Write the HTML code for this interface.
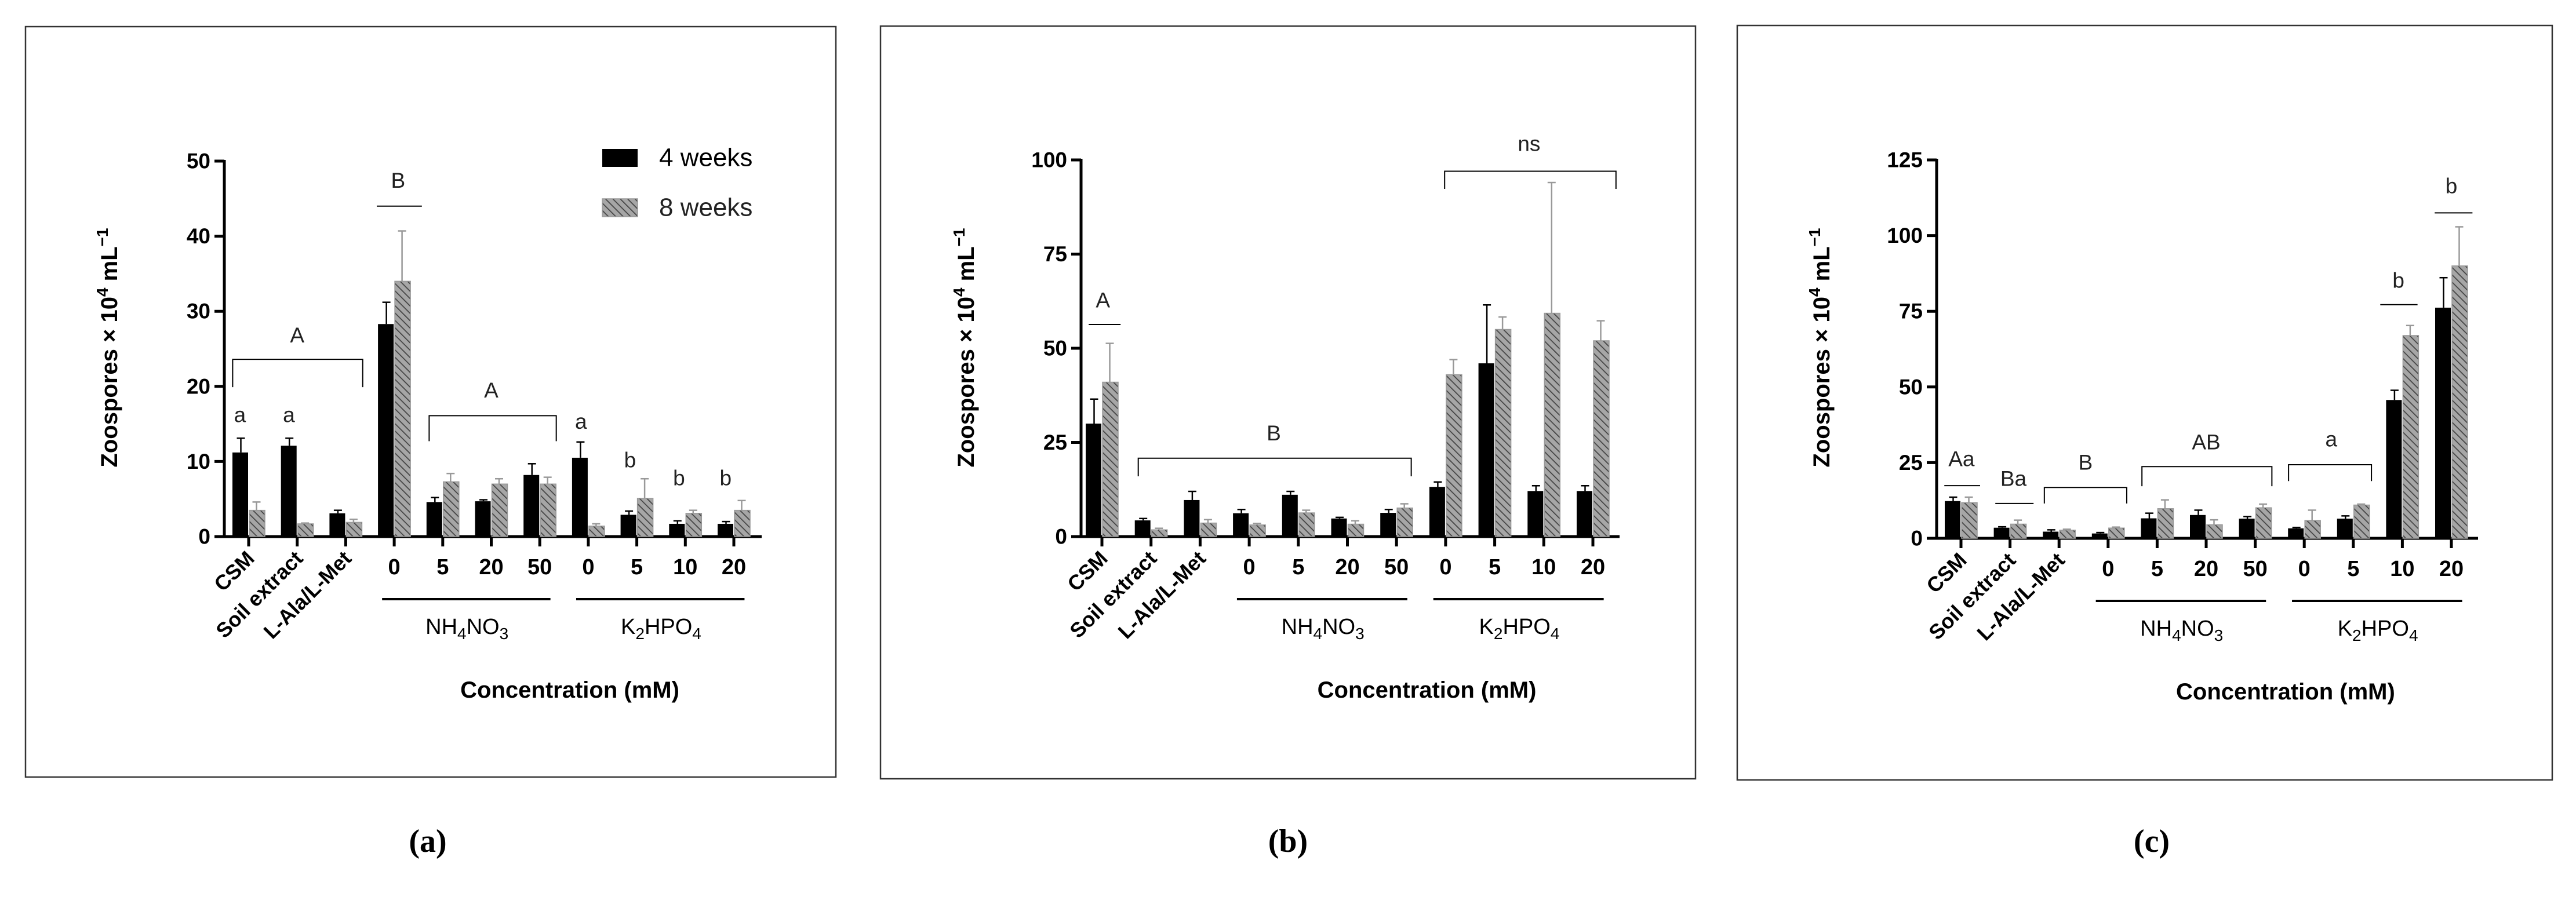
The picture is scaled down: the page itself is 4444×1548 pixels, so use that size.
<!DOCTYPE html>
<html><head><meta charset="utf-8"><style>
html,body{margin:0;padding:0;background:#fff}
svg{display:block}
text{font-family:"Liberation Sans",Arial,sans-serif}
</style></head><body>
<svg id="fig" width="4444" height="1548" viewBox="0 0 4444 1548" xmlns="http://www.w3.org/2000/svg">
<defs>
<pattern id="hatch" patternUnits="userSpaceOnUse" width="9" height="9" patternTransform="rotate(-45)">
<rect width="9" height="9" fill="#a6a6a6"/>
<line x1="0" y1="0" x2="0" y2="9" stroke="#444" stroke-width="3.5"/>
</pattern>
</defs>
</svg>
<script>
const categories = ["CSM","Soil extract","L-Ala/L-Met","0","5","20","50","0","5","10","20"];
const tickLabelsA = [0,10,20,30,40,50];
const tickLabelsB = [0,25,50,75,100];
const tickLabelsC = [0,25,50,75,100,125];
const a4 = [11.2,12.1,3.1,28.3,4.6,4.7,8.2,10.5,2.9,1.7,1.7];
const a4err = [13.1,13.1,3.5,31.2,5.2,4.9,9.7,12.6,3.4,2.1,2.0];
const a8 = [3.5,1.7,1.9,34,7.3,7.0,7.0,1.4,5.1,3.1,3.5];
const a8err = [4.6,1.8,2.3,40.7,8.4,7.7,7.9,1.7,7.7,3.5,4.8];
const b4 = [30,4.3,9.7,6.2,11.1,4.8,6.3,13.2,46,12.1,12.1];
const b4err = [36.5,4.8,12,7.2,12,5.1,7.2,14.5,61.5,13.5,13.5];
const b8 = [41,1.8,3.6,3.1,6.3,3.3,7.6,43,55,59.3,52];
const b8err = [51.3,2.2,4.5,3.5,7.0,4.2,8.7,47,58.3,94,57.3];
const c4 = [12.3,3.5,2.2,1.6,6.6,7.7,6.5,3.3,6.5,45.7,76.2];
const c4err = [13.6,3.8,2.8,1.9,8.3,9.3,7.2,3.6,7.4,48.9,86.1];
const c8 = [11.8,4.7,2.7,3.4,9.8,4.5,10.1,5.9,11.0,67,90];
const c8err = [13.6,6.0,3.0,3.7,12.7,6.1,11.3,9.3,11.3,70.3,102.9];
const annA = [["br",-0.33,2.35,23.6,19.9,1.0,26.8,"A"],["ln",2.64,3.57,44,0,3.08,47.4,"B"],["br",3.72,6.34,16.1,12.7,5.0,19.5,"A"],
  ["tx",0,0,0,0,-0.18,16.2,"a"],["tx",0,0,0,0,0.83,16.2,"a"],["tx",0,0,0,0,6.85,15.3,"a"],["tx",0,0,0,0,7.86,10.2,"b"],["tx",0,0,0,0,8.87,7.8,"b"],["tx",0,0,0,0,9.83,7.8,"b"]];
const annB = [["ln",-0.27,0.38,56.3,0,0.02,62.8,"A"],["br",0.74,6.3,20.8,16.0,3.5,27.5,"B"],["br",6.98,10.47,97,92.3,8.7,104.3,"ns"]];
const annC = [["ln",-0.34,0.39,17.4,0,0.01,26.2,"Aa"],["ln",0.70,1.48,11.5,0,1.07,19.7,"Ba"],["br",1.70,3.38,16.8,11.5,2.54,25.1,"B"],
  ["br",3.69,6.34,23.7,17.2,5.0,31.8,"AB"],["br",6.68,8.37,24.3,18.9,7.55,32.7,"a"],["ln",8.55,9.31,77.2,0,8.92,85.2,"b"],["ln",9.66,10.43,107.5,0,10.0,116.4,"b"]];

const svg = document.getElementById('fig');
const NS = "http://www.w3.org/2000/svg";
function mk(tag, attrs, parent, txt){const e=document.createElementNS(NS,tag);for(const k in attrs)e.setAttribute(k,attrs[k]);if(txt!==undefined)e.textContent=txt;(parent||svg).appendChild(e);return e;}

function panel(p){
  const g = mk('g',{});
  
  
  const fr = mk('rect',{x:p.box[0],y:p.box[1],width:p.box[2]-p.box[0],height:p.box[3]-p.box[1],fill:'none',stroke:'#333','stroke-width':2.5},g);
  
  
  const ys = v => p.y0 - v*(p.y0-p.ytop)/p.ymax;
  const xs = i => p.x0 + i*p.dx;
  const ya = mk('line',{x1:p.ax,y1:ys(p.ymax)-2,x2:p.ax,y2:p.y0+2,stroke:'#000','stroke-width':5},g);
  
  
  p.ticks.forEach(t=>{
    mk('line',{x1:p.ax-17,y1:ys(t),x2:p.ax,y2:ys(t),stroke:'#000','stroke-width':5},g);
    const tl = mk('text',{x:p.ax-24,y:ys(t),'text-anchor':'end','dominant-baseline':'central','font-size':37,'font-weight':'bold'},g,String(t));
    
    
  });
  const xa = mk('line',{x1:p.ax-2,y1:p.y0,x2:p.xend,y2:p.y0,stroke:'#000','stroke-width':5},g);
  
  
  const bw = 27;
  categories.forEach((c,i)=>{
    const x = xs(i);
    mk('line',{x1:x,y1:p.y0,x2:x,y2:p.y0+17,stroke:'#000','stroke-width':5},g);
    mk('line',{x1:x-bw/2,y1:ys(p.e4[i]),x2:x-bw/2,y2:ys(p.v4[i]),stroke:'#000','stroke-width':2.5},g);
    mk('line',{x1:x-bw/2-7,y1:ys(p.e4[i]),x2:x-bw/2+7,y2:ys(p.e4[i]),stroke:'#000','stroke-width':2.5},g);
    mk('line',{x1:x+bw/2,y1:ys(p.e8[i]),x2:x+bw/2,y2:ys(p.v8[i]),stroke:'#999','stroke-width':2.5},g);
    mk('line',{x1:x+bw/2-7,y1:ys(p.e8[i]),x2:x+bw/2+7,y2:ys(p.e8[i]),stroke:'#999','stroke-width':2.5},g);
    const b1 = mk('rect',{x:x-bw-1,y:ys(p.v4[i]),width:bw,height:p.y0-ys(p.v4[i]),fill:'#000'},g);
    
    
    const b2 = mk('rect',{x:x+1,y:ys(p.v8[i]),width:bw,height:p.y0-ys(p.v8[i]),fill:'url(#hatch)',stroke:'#999','stroke-width':1.5},g);
    
    
    if(i<3){
      const t = mk('text',{x:x+12,y:p.y0+40,'text-anchor':'end','font-size':36,'font-weight':'bold',transform:`rotate(-45 ${x+12} ${p.y0+40})`},g,c);
      
      
    } else {
      const t = mk('text',{x:x,y:p.y0+65,'text-anchor':'middle','font-size':38,'font-weight':'bold'},g,c);
      
      
    }
  });
  const gy = p.y0+108;
  [[3,6,'NH','4','NO','3'],[7,10,'K','2','HPO','4']].forEach(gr=>{
    const l = mk('line',{x1:xs(gr[0])-0.25*p.dx,y1:gy,x2:xs(gr[1])+0.22*p.dx,y2:gy,stroke:'#000','stroke-width':4},g);
    
    
    const t = mk('text',{x:(xs(gr[0])+xs(gr[1]))/2,y:gy+60,'text-anchor':'middle','font-size':38},g);
    
    
    mk('tspan',{},t,gr[2]); mk('tspan',{dy:9,'font-size':28},t,gr[3]); mk('tspan',{dy:-9},t,gr[4]); mk('tspan',{dy:9,'font-size':28},t,gr[5]);
  });
  const ct = mk('text',{x:(xs(3)+xs(10))/2+10,y:p.y0+278,'text-anchor':'middle','font-size':40,'font-weight':'bold'},g,'Concentration (mM)');
  
  
  const yt = mk('text',{x:p.ax-185,y:600,'text-anchor':'middle','font-size':40,'font-weight':'bold',transform:`rotate(-90 ${p.ax-185} 600)`},g);
  
  
  mk('tspan',{},yt,'Zoospores × 10'); mk('tspan',{dy:-16,'font-size':28},yt,'4'); mk('tspan',{dy:16},yt,' mL'); mk('tspan',{dy:-16,'font-size':28},yt,'−1');
  p.ann.forEach(a=>{
    const [type,f,t,lv,gv,li,lab,txt]=a;
    if(type==='br'){
      const pl = mk('polyline',{points:`${xs(f)},${ys(gv)} ${xs(f)},${ys(lv)} ${xs(t)},${ys(lv)} ${xs(t)},${ys(gv)}`,fill:'none',stroke:'#000','stroke-width':2},g);
      
      
    } else if(type==='ln'){
      const ln = mk('line',{x1:xs(f),y1:ys(lv),x2:xs(t),y2:ys(lv),stroke:'#000','stroke-width':2},g);
      
      
    }
    const tx = mk('text',{x:xs(li),y:ys(lab),'text-anchor':'middle','dominant-baseline':'central','font-size':37,fill:'#222'},g,txt);
    
    
  });
  const cap = mk('text',{x:p.cap,y:1452,'text-anchor':'middle','dominant-baseline':'central','font-size':56,'font-weight':'bold',style:'font-family:"Liberation Serif",serif'},g,'('+p.id+')');
  
  
}

panel({id:'a',box:[44,46,1442,1341],ax:387,y0:926,ytop:278,ymax:50,x0:429,dx:83.7,xend:1314,ticks:tickLabelsA,v4:a4,e4:a4err,v8:a8,e8:a8err,ann:annA,cap:738});
panel({id:'b',box:[1519,45,2925,1344],ax:1865,y0:926,ytop:276,ymax:100,x0:1901,dx:84.7,xend:2794,ticks:tickLabelsB,v4:b4,e4:b4err,v8:b8,e8:b8err,ann:annB,cap:2222});
panel({id:'c',box:[2997,44,4403,1346],ax:3341,y0:929,ytop:276,ymax:125,x0:3383,dx:84.6,xend:4275,ticks:tickLabelsC,v4:c4,e4:c4err,v8:c8,e8:c8err,ann:annC,cap:3712});

const lg = mk('g',{});


const l1 = mk('rect',{x:1039,y:257,width:61,height:31,fill:'#000'},lg);


const t1 = mk('text',{x:1137,y:272,'dominant-baseline':'central','font-size':44},lg,'4 weeks');


const l2 = mk('rect',{x:1039,y:343,width:61,height:31,fill:'url(#hatch)',stroke:'#999','stroke-width':1.5},lg);


const t2 = mk('text',{x:1137,y:358,'dominant-baseline':'central','font-size':44,fill:'#222'},lg,'8 weeks');


</script>
</body></html>
